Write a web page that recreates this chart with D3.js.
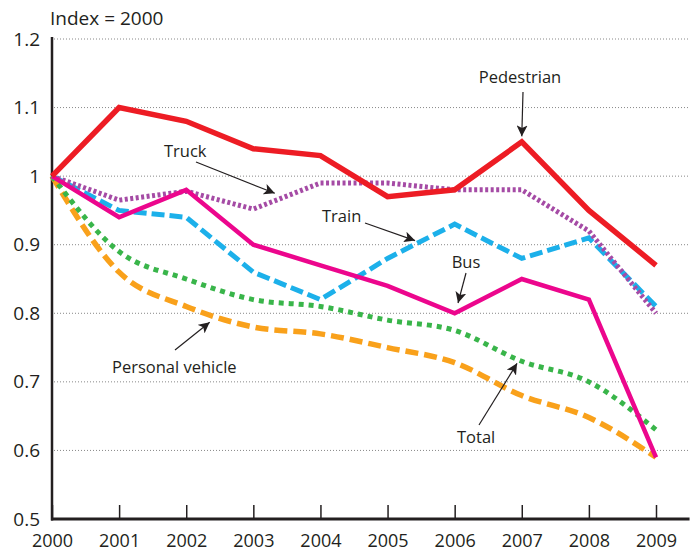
<!DOCTYPE html>
<html>
<head>
<meta charset="utf-8" />
<title>Index = 2000</title>
<script src="https://d3js.org/d3.v7.min.js"></script>
<style>
body { margin: 0; background: #fff; }
text { font-family: "Open Sans", "Noto Sans", sans-serif; fill: #231f20; }
.grid line { stroke: #888; stroke-width: 1; stroke-dasharray: 1,2; }
</style>
</head>
<body>
<div id="chart"></div>
<script>

// data
var years = [2000, 2001, 2002, 2003, 2004, 2005, 2006, 2007, 2008, 2009]
var pedestrian = [1.00, 1.10, 1.08, 1.04, 1.03, 0.97, 0.98, 1.05, 0.95, 0.87]
var truck      = [1.00, 0.965, 0.978, 0.952, 0.99, 0.99, 0.98, 0.98, 0.92, 0.80]
var train      = [1.00, 0.95, 0.94, 0.86, 0.82, 0.88, 0.93, 0.88, 0.91, 0.81]
var bus        = [1.00, 0.94, 0.98, 0.90, 0.87, 0.84, 0.80, 0.85, 0.82, 0.59]
var total      = [1.00, 0.89, 0.85, 0.82, 0.81, 0.79, 0.775, 0.73, 0.70, 0.63]
var personal   = [1.00, 0.86, 0.81, 0.78, 0.77, 0.75, 0.728, 0.68, 0.648, 0.59]
var yTicks = [0.5, 0.6, 0.7, 0.8, 0.9, 1.0, 1.1, 1.2]

// annotations: label, where the arrow points [year, value]
var notes = [
  {label: "Pedestrian",       tip: [2007, 1.058],   tx: 520, ty: 83,  anchor: "middle", from: [523, 92]},
  {label: "Truck",            tip: [2003.32, 0.975], tx: 164, ty: 157, anchor: "start",  from: [196, 162]},
  {label: "Train",            tip: [2005.41, 0.906], tx: 322, ty: 222, anchor: "start",  from: [365, 223]},
  {label: "Bus",              tip: [2006.05, 0.815], tx: 466, ty: 268, anchor: "middle", from: [466, 273]},
  {label: "Personal vehicle", tip: [2002.35, 0.787], tx: 112, ty: 373, anchor: "start",  from: [175, 350]},
  {label: "Total",            tip: [2006.93, 0.727], tx: 457, ty: 443, anchor: "start",  from: [479, 425]}
]

var W = 698, H = 553
var svg = d3.select("#chart").append("svg").attr("width", W).attr("height", H)

var x = d3.scaleLinear().domain([2000, 2009]).range([52, 656])
var y = d3.scaleLinear().domain([0.5, 1.2]).range([519, 39])
var xEnd = 2009.5

// dotted grid
svg.append("g").attr("class", "grid")
  .selectAll("line").data(yTicks.filter(function(d){ return d > 0.5 }))
  .join("line")
  .attr("x1", x(2000) + 2).attr("x2", x(xEnd))
  .attr("y1", function(d){ return y(d) }).attr("y2", function(d){ return y(d) })

// title
svg.append("text").text("Index = 2000")
  .attr("x", 50).attr("y", 25).attr("font-size", 19)

// y axis
var yAxis = svg.append("g").attr("transform", "translate(" + x(2000) + ",0)")
  .call(d3.axisLeft(y).tickValues(yTicks).tickSize(0).tickPadding(12)
    .tickFormat(function(d){ return d === 1 ? "1" : d.toFixed(1) }))
yAxis.select(".domain").remove()
yAxis.selectAll("text").attr("font-size", 19).attr("fill", "#231f20")
  .style("font-family", "'Open Sans', sans-serif")
svg.append("line")
  .attr("x1", x(2000)).attr("x2", x(2000))
  .attr("y1", y(1.2) - 2).attr("y2", y(0.5) + 1.5)
  .attr("stroke", "#231f20").attr("stroke-width", 2.5)

// x axis, ticks pointing up
var xAxis = svg.append("g").attr("transform", "translate(0," + y(0.5) + ")")
  .call(d3.axisBottom(x).tickValues(years).tickSizeInner(-14).tickSizeOuter(0)
    .tickPadding(15).tickFormat(d3.format("d")))
xAxis.select(".domain").remove()
xAxis.selectAll(".tick line").attr("stroke", "#231f20").attr("stroke-width", 1.5)
xAxis.selectAll("text").attr("font-size", 18).attr("fill", "#231f20")
  .style("font-family", "'Open Sans', sans-serif")
svg.append("line")
  .attr("x1", x(2000) - 1).attr("x2", x(xEnd))
  .attr("y1", y(0.5)).attr("y2", y(0.5))
  .attr("stroke", "#231f20").attr("stroke-width", 3)

// series
var series = [
  {values: personal,   color: "#f9a11b", width: 5.5, dash: "13,6",  curve: d3.curveMonotoneX},
  {values: total,      color: "#39b54a", width: 5,   dash: "5,5",   curve: d3.curveMonotoneX},
  {values: train,      color: "#1cb0ea", width: 5,   dash: "13,5",  curve: d3.curveLinear},
  {values: truck,      color: "#a54ba5", width: 5,   dash: "3,2.5", curve: d3.curveLinear},
  {values: bus,        color: "#ec068d", width: 4.5, dash: null,    curve: d3.curveLinear},
  {values: pedestrian, color: "#ed1c24", width: 5.5, dash: null,    curve: d3.curveLinear}
]

series.forEach(function(s) {
  var line = d3.line()
    .x(function(d, i){ return x(years[i]) })
    .y(function(d){ return y(d) })
    .curve(s.curve)
  svg.append("path")
    .datum(s.values)
    .attr("d", line)
    .attr("fill", "none")
    .attr("stroke", s.color)
    .attr("stroke-width", s.width)
    .attr("stroke-dasharray", s.dash)
    .attr("stroke-linejoin", "miter")
})

// arrows
svg.append("defs").append("marker")
  .attr("id", "arrow")
  .attr("viewBox", "0 0 10 10")
  .attr("refX", 10).attr("refY", 5)
  .attr("markerWidth", 11).attr("markerHeight", 11)
  .attr("markerUnits", "userSpaceOnUse")
  .attr("orient", "auto")
  .append("path").attr("d", "M0,0 L10,5 L0,10 L2.5,5 Z").attr("fill", "#231f20")

notes.forEach(function(n) {
  svg.append("text").text(n.label)
    .attr("x", n.tx).attr("y", n.ty)
    .attr("text-anchor", n.anchor)
    .attr("font-size", 16.5)
  svg.append("line")
    .attr("x1", n.from[0]).attr("y1", n.from[1])
    .attr("x2", x(n.tip[0])).attr("y2", y(n.tip[1]))
    .attr("stroke", "#231f20").attr("stroke-width", 1.2)
    .attr("marker-end", "url(#arrow)")
})

</script>
</body>
</html>
